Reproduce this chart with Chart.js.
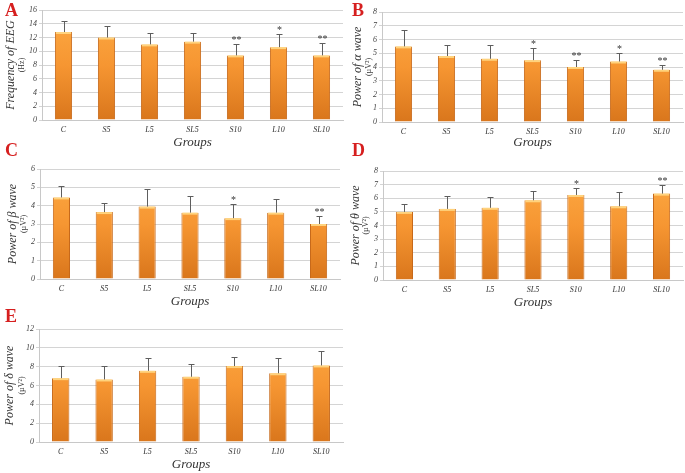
<!DOCTYPE html>
<html>
<head>
<meta charset="utf-8">
<script src="https://cdn.jsdelivr.net/npm/chart.js@4.4.1/dist/chart.umd.min.js"></script>
<style>
    body { margin: 0; background: #fff; width: 685px; height: 473px; position: relative; overflow: hidden; }
    .panel { position: absolute; }
    .panel canvas { display: block; }
    .letter { position: absolute; color: #d61f1f; font: bold 18px/18px "Liberation Serif", "Times New Roman", serif; }
</style>
</head>
<body>
<div class="panel" style="left:0;top:0"><canvas id="chartA" width="345" height="152"></canvas></div>
<div class="panel" style="left:340px;top:0"><canvas id="chartB" width="345" height="152"></canvas></div>
<div class="panel" style="left:0;top:157px"><canvas id="chartC" width="345" height="152"></canvas></div>
<div class="panel" style="left:340px;top:160px"><canvas id="chartD" width="345" height="152"></canvas></div>
<div class="panel" style="left:0;top:317px"><canvas id="chartE" width="345" height="156"></canvas></div>
<div class="letter" style="left:5px;top:1px">A</div>
<div class="letter" style="left:352px;top:1px">B</div>
<div class="letter" style="left:5px;top:141px">C</div>
<div class="letter" style="left:352px;top:141px">D</div>
<div class="letter" style="left:5px;top:307px">E</div>

<script>
// Datos
const groups = ['C', 'S5', 'L5', 'SL5', 'S10', 'L10', 'SL10'];

const freqMean  = [12.8, 12.0, 11.0, 11.4, 9.4, 10.6, 9.4];
const freqSD    = [1.6, 1.7, 1.7, 1.2, 1.6, 1.9, 1.8];
const freqStars = ['', '', '', '', '**', '*', '**'];

const alphaMean  = [5.5, 4.8, 4.6, 4.5, 4.0, 4.4, 3.8];
const alphaSD    = [1.2, 0.8, 1.0, 0.9, 0.5, 0.6, 0.35];
const alphaStars = ['', '', '', '*', '**', '*', '**'];

const betaMean  = [4.45, 3.65, 3.95, 3.62, 3.32, 3.62, 3.0];
const betaSD    = [0.6, 0.5, 0.95, 0.93, 0.75, 0.73, 0.44];
const betaStars = ['', '', '', '', '*', '', '**'];

const thetaMean  = [5.0, 5.22, 5.3, 5.85, 6.24, 5.41, 6.34];
const thetaSD    = [0.6, 0.93, 0.8, 0.65, 0.54, 1.03, 0.6];
const thetaStars = ['', '', '', '', '*', '', '**'];

const deltaMean  = [6.78, 6.64, 7.56, 6.93, 8.06, 7.3, 8.13];
const deltaSD    = [1.32, 1.46, 1.34, 1.34, 0.94, 1.67, 1.55];
const deltaStars = ['', '', '', '', '', '', ''];

const SERIF = '"Liberation Serif", "Times New Roman", serif';

// Barras de error, asteriscos y títulos
const decor = {
    id: 'decor',
    afterDatasetsDraw(chart, args, opts) {
        const ctx = chart.ctx;
        const y = chart.scales.y;
        const ds = chart.data.datasets[0];
        const meta = chart.getDatasetMeta(0);
        ctx.save();
        meta.data.forEach((bar, i) => {
            const half = bar.width / 2;
            ctx.fillStyle = 'rgba(255,214,130,0.95)';
            ctx.fillRect(bar.x - half + 1, bar.y, bar.width - 2, 2);

            const top = Math.round(y.getPixelForValue(ds.data[i] + opts.sd[i]));
            const x = Math.round(bar.x) + 0.5;
            ctx.strokeStyle = '#5e5e5e';
            ctx.lineWidth = 1;
            ctx.beginPath();
            ctx.moveTo(x, bar.y);
            ctx.lineTo(x, top);
            ctx.moveTo(x - 3, top + 0.5);
            ctx.lineTo(x + 3, top + 0.5);
            ctx.stroke();

            if (opts.stars[i]) {
                ctx.fillStyle = '#333';
                ctx.font = '10px ' + SERIF;
                ctx.textAlign = 'center';
                ctx.textBaseline = 'alphabetic';
                ctx.fillText(opts.stars[i], x, top - 1);
            }
        });

        const a = chart.chartArea;
        const cy = (a.top + a.bottom) / 2;
        ctx.fillStyle = '#333';
        ctx.textAlign = 'center';
        ctx.textBaseline = 'middle';

        ctx.save();
        ctx.translate(opts.titleX[0], cy);
        ctx.rotate(-Math.PI / 2);
        ctx.font = 'italic 12px ' + SERIF;
        ctx.fillText(opts.title, 0, 0);
        ctx.restore();

        ctx.save();
        ctx.translate(opts.titleX[1], cy);
        ctx.rotate(-Math.PI / 2);
        ctx.font = '8px ' + SERIF;
        ctx.fillText(opts.unit, 0, 0);
        ctx.restore();

        ctx.font = 'italic 13px ' + SERIF;
        ctx.fillText('Groups', (a.left + a.right) / 2, a.bottom + opts.groupsDy);
        ctx.restore();
    }
};

function barFill(context) {
    const chart = context.chart;
    const a = chart.chartArea;
    if (!a) return '#f39a33';
    const g = chart.ctx.createLinearGradient(0, a.top, 0, a.bottom);
    g.addColorStop(0, '#fdab44');
    g.addColorStop(0.5, '#f69632');
    g.addColorStop(1, '#d9761c');
    return g;
}

function makeChart(id, p) {
    new Chart(document.getElementById(id), {
        type: 'bar',
        data: {
            labels: groups,
            datasets: [{
                data: p.mean,
                backgroundColor: barFill,
                borderColor: '#c7691a',
                borderWidth: { left: 1, right: 1, top: 0, bottom: 0 },
                barPercentage: 0.4,
                categoryPercentage: 1
            }]
        },
        options: {
            responsive: false,
            animation: false,
            layout: { padding: { top: p.top, right: p.right, left: 0, bottom: 0 } },
            plugins: {
                legend: { display: false },
                tooltip: { enabled: false },
                decor: {
                    sd: p.sd, stars: p.stars, title: p.title, unit: p.unit,
                    titleX: p.titleX, groupsDy: p.groupsDy
                }
            },
            scales: {
                y: {
                    min: 0,
                    max: p.max,
                    afterFit: s => { s.width = p.yw; },
                    grid: { color: '#d4d4d4', tickLength: 3 },
                    border: { color: '#c8c8c8' },
                    ticks: {
                        stepSize: p.step,
                        padding: 2,
                        color: '#444',
                        font: { family: SERIF, size: 8, style: 'italic' }
                    }
                },
                x: {
                    afterFit: s => { s.height = p.xh; },
                    grid: { display: false, drawTicks: false },
                    border: { color: '#c8c8c8' },
                    ticks: {
                        padding: 5,
                        color: '#333',
                        font: { family: SERIF, size: 8, style: 'italic' }
                    }
                }
            }
        },
        plugins: [decor]
    });
}

makeChart('chartA', {
    mean: freqMean, sd: freqSD, stars: freqStars, max: 16, step: 2,
    title: 'Frequency of EEG', unit: '(Hz)', titleX: [11, 22],
    top: 10, right: 2, yw: 42, xh: 32, groupsDy: 23
});
makeChart('chartB', {
    mean: alphaMean, sd: alphaSD, stars: alphaStars, max: 8, step: 1,
    title: 'Power of α wave', unit: '(µV²)', titleX: [18, 29],
    top: 12, right: 2, yw: 42, xh: 30, groupsDy: 21
});
makeChart('chartC', {
    mean: betaMean, sd: betaSD, stars: betaStars, max: 6, step: 1,
    title: 'Power of β wave', unit: '(µV²)', titleX: [13, 24],
    top: 12, right: 5, yw: 40, xh: 30, groupsDy: 23
});
makeChart('chartD', {
    mean: thetaMean, sd: thetaSD, stars: thetaStars, max: 8, step: 1,
    title: 'Power of θ wave', unit: '(µV²)', titleX: [16, 26],
    top: 11, right: 2, yw: 43, xh: 32, groupsDy: 23
});
makeChart('chartE', {
    mean: deltaMean, sd: deltaSD, stars: deltaStars, max: 12, step: 2,
    title: 'Power of δ wave', unit: '(µV²)', titleX: [10, 22],
    top: 12, right: 2, yw: 39, xh: 31, groupsDy: 23
});
</script>
</body>
</html>
